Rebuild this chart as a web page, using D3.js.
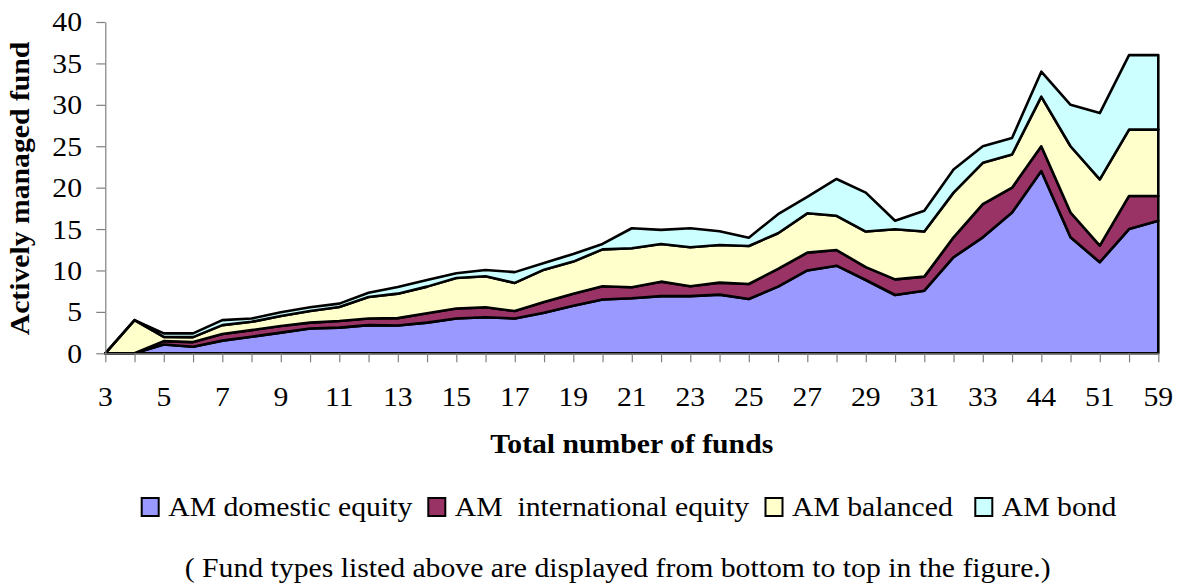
<!DOCTYPE html>
<html>
<head>
<meta charset="utf-8">
<script src="https://cdn.jsdelivr.net/npm/d3@7/dist/d3.min.js"></script>
<style>
  html, body { margin: 0; padding: 0; background: #fff; }
  svg { display: block; }
  text { font-family: "Liberation Serif", "Times New Roman", serif; fill: #000; }
</style>
</head>
<body>
<svg id="chart" width="1179" height="588"></svg>
<script>
// ---- data ----
const categories = ["3","4","5","6","7","8","9","10","11","12","13","14","15","16","17","18","19","20",
  "21","22","23","24","25","26","27","28","29","30","31","32","33","34","44","47","51","55","59"];
const domesticEquity = [0,0,1.07,0.8,1.53,2.0,2.5,3.0,3.1,3.4,3.35,3.7,4.2,4.35,4.2,4.9,5.75,6.5,
  6.64,6.9,6.9,7.08,6.56,8.05,10.0,10.58,8.85,7.04,7.56,11.6,14,17,22,14,11,15,16];
const internationalEquity = [0,0,0.4,0.55,0.8,0.8,0.8,0.7,0.8,0.8,0.9,1.13,1.2,1.2,0.9,1.3,1.45,1.6,
  1.33,1.75,1.2,1.45,1.81,2.15,2.15,1.89,1.55,1.89,1.7,2.4,4,3,3,3,2,4,3];
const balanced = [0,4,0.5,0.6,1.07,1.0,1.2,1.4,1.7,2.6,2.95,3.22,3.7,3.75,3.4,3.9,3.87,4.45,
  4.71,4.55,4.7,4.55,4.59,4.3,4.75,4.13,4.3,6.04,5.44,5.4,5,4,6,8,8,8,8];
const bond = [0,0,0.43,0.45,0.6,0.4,0.45,0.45,0.4,0.5,0.8,0.8,0.56,0.76,1.3,0.8,0.93,0.65,
  2.42,1.7,2.3,1.65,1.0,2.3,2.0,4.45,4.7,1.03,2.5,2.8,2,2,3,5,8,9,9];
const seriesNames = ["AM domestic equity", "AM  international equity", "AM balanced", "AM bond"];
const seriesColors = ["#9999FF", "#993366", "#FFFFCC", "#CCFFFF"];
const yTicks = [0,5,10,15,20,25,30,35,40];
const xTickLabels = ["3","5","7","9","11","13","15","17","19","21","23","25","27","29","31","33","44","51","59"];

// ---- build ----
const seriesData = [domesticEquity, internationalEquity, balanced, bond];
const keys = ["d","i","b","o"];
const rows = categories.map((c, k) => ({cat: c, d: domesticEquity[k], i: internationalEquity[k], b: balanced[k], o: bond[k]}));
const stacked = d3.stack().keys(keys)(rows);

const svg = d3.select("#chart");
const x = d3.scalePoint().domain(categories).range([105.3, 1158.3]);
const y = d3.scaleLinear().domain([0, 40]).range([353.3, 22]);
const SX = 1.1;
const FS = 27;

const area = d3.area()
  .x(d => x(d.data.cat))
  .y0(d => y(d[0]))
  .y1(d => y(d[1]));

svg.append("g").selectAll("path").data(stacked).join("path")
  .attr("d", area)
  .attr("fill", (d, k) => seriesColors[k])
  .attr("stroke", "#000")
  .attr("stroke-width", 2.6)
  .attr("stroke-linejoin", "round");

// axes (lines)
const axisColor = "#808080";
const yAxis = svg.append("g").attr("transform", "translate(105.3,0)")
  .call(d3.axisLeft(y).tickValues(yTicks).tickSize(9).tickSizeOuter(0).tickFormat(""));
const xAxis = svg.append("g").attr("transform", "translate(0,353.3)")
  .call(d3.axisBottom(x).tickSize(9).tickSizeOuter(0).tickFormat(""));
[yAxis, xAxis].forEach(a => {
  a.selectAll("path,line").attr("stroke", axisColor).attr("stroke-width", 1.2);
});

// y tick labels
svg.append("g").selectAll("g").data(yTicks).join("g")
  .attr("transform", d => `translate(82,${y(d)}) scale(${SX},1)`)
  .append("text")
  .attr("text-anchor", "end").attr("dy", "0.35em")
  .style("font-size", FS + "px")
  .text(d => d);

// x tick labels
svg.append("g").selectAll("g").data(xTickLabels).join("g")
  .attr("transform", d => `translate(${x(d)},406) scale(${SX},1)`)
  .append("text")
  .attr("text-anchor", "middle")
  .style("font-size", FS + "px")
  .text(d => d);

// axis titles
svg.append("g").attr("transform", `translate(29,188.5) rotate(-90) scale(${SX},1)`)
  .append("text").attr("text-anchor", "middle")
  .style("font-size", FS + "px").style("font-weight", "bold")
  .text("Actively managed fund");
svg.append("g").attr("transform", `translate(631.7,453) scale(${SX},1)`)
  .append("text").attr("text-anchor", "middle")
  .style("font-size", FS + "px").style("font-weight", "bold")
  .text("Total number of funds");

// legend
const legendX = [141.7, 428.3, 765.5, 975.3];
const lg = svg.append("g").selectAll("g").data(seriesNames).join("g")
  .attr("transform", (d, k) => `translate(${legendX[k]},498)`);
lg.append("rect").attr("x", 0).attr("y", 0).attr("width", 17).attr("height", 18)
  .attr("fill", (d, k) => seriesColors[k]).attr("stroke", "#000").attr("stroke-width", 2);
lg.append("g").attr("transform", `translate(26.5,18) scale(${SX},1)`)
  .append("text").style("font-size", FS + "px").style("white-space", "pre")
  .attr("xml:space", "preserve")
  .text(d => d);

// footnote
svg.append("g").attr("transform", `translate(617.7,577) scale(${SX},1)`)
  .append("text").attr("text-anchor", "middle").style("font-size", FS + "px")
  .text("( Fund types listed above are displayed from bottom to top in the figure.)");
</script>
</body>
</html>
